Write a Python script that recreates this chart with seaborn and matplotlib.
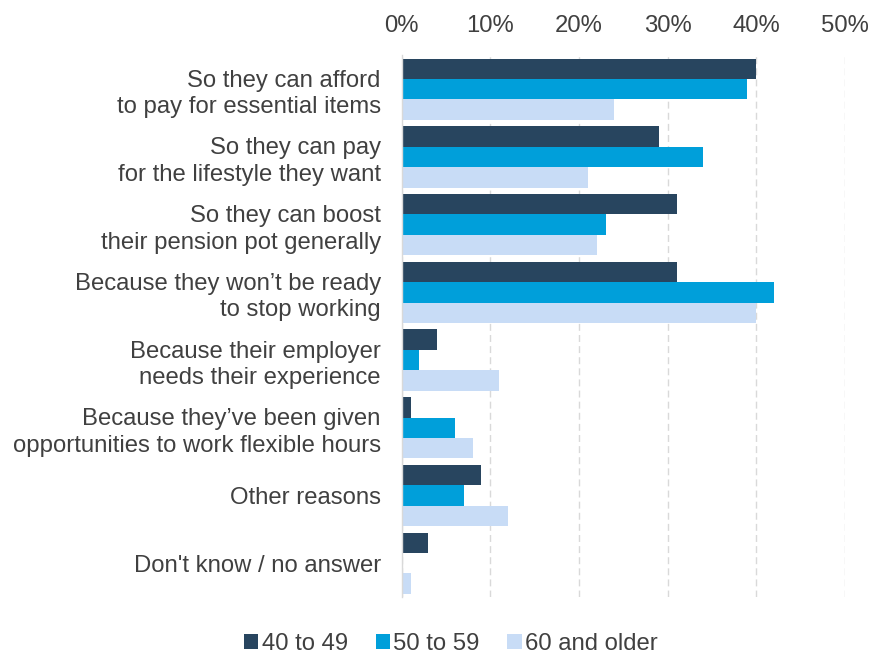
import matplotlib
matplotlib.use("Agg")
import matplotlib.pyplot as plt
import seaborn as sns
import pandas as pd
from matplotlib.ticker import FuncFormatter

categories = [
    "So they can afford\nto pay for essential items",
    "So they can pay\nfor the lifestyle they want",
    "So they can boost\ntheir pension pot generally",
    "Because they won\u2019t be ready\nto stop working",
    "Because their employer\nneeds their experience",
    "Because they\u2019ve been given\nopportunities to work flexible hours",
    "Other reasons",
    "Don't know / no answer",
]
groups = ["40 to 49", "50 to 59", "60 and older"]
vals_40_49 = [40, 29, 31, 31, 4, 1, 9, 3]
vals_50_59 = [39, 34, 23, 42, 2, 6, 7, 0]
vals_60_plus = [24, 21, 22, 40, 11, 8, 12, 1]
xticks = [0, 10, 20, 30, 40, 50]

colors = ["#28455F", "#009FDA", "#C8DCF6"]

rows = []
for g, vals in zip(groups, [vals_40_49, vals_50_59, vals_60_plus]):
    for c, v in zip(categories, vals):
        rows.append({"reason": c, "group": g, "value": v})
df = pd.DataFrame(rows)

sns.set_theme(style="white")
plt.rcParams["font.family"] = ["Liberation Sans", "DejaVu Sans"]
text_color = "#404040"
fs = 17.2

fig = plt.figure(figsize=(8.7, 6.56), dpi=100)
ax = fig.add_axes([401.7 / 870, 1 - 597 / 656, (845 - 401.7) / 870, (597 - 55.3) / 656])

sns.barplot(data=df, y="reason", x="value", hue="group", order=categories,
            hue_order=groups, palette=colors, width=0.905, orient="h",
            linewidth=0, ax=ax, saturation=1)

ax.set_xlim(0, 50)
ax.set_xticks(xticks)
ax.xaxis.set_major_formatter(FuncFormatter(lambda v, p: f"{int(v)}%"))
ax.xaxis.tick_top()
ax.tick_params(axis="x", length=0, pad=13.5, labelsize=fs, labelcolor=text_color)
ax.tick_params(axis="y", length=0, pad=15, labelsize=fs, labelcolor=text_color)
for lab in ax.get_yticklabels():
    lab.set_linespacing(1.27)
ax.set_xlabel("")
ax.set_ylabel("")
ax.grid(axis="x", color="#D9D9D9", linestyle=(0, (5, 3)), linewidth=1)
ax.set_axisbelow(True)
for s in ["top", "right", "bottom"]:
    ax.spines[s].set_visible(False)
ax.spines["left"].set_color("#D9D9D9")
ax.spines["left"].set_linewidth(1)

handles, labels = ax.get_legend_handles_labels()
ax.get_legend().remove()
fig.legend(handles, labels, loc="center", bbox_to_anchor=(451 / 870, 1 - 644 / 656),
           ncol=3, frameon=False, fontsize=fs, handlelength=0.6, handleheight=0.6,
           handletextpad=0.15, columnspacing=1.15, labelcolor=text_color,
           borderpad=0.1)

fig.savefig("out.png", dpi=100)
